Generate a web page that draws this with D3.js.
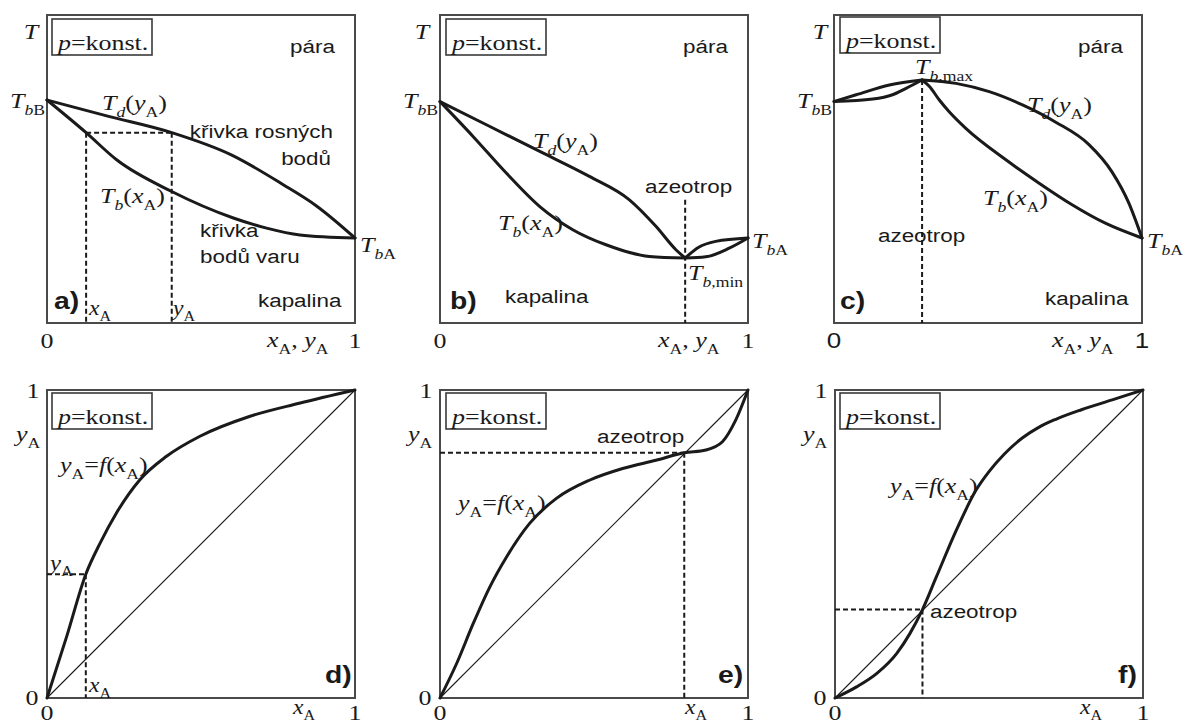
<!DOCTYPE html>
<html>
<head>
<meta charset="utf-8">
<script src="https://cdn.jsdelivr.net/npm/d3@7/dist/d3.min.js"></script>
<style>
  body { margin: 0; background: #fff; }
  svg { display: block; }
</style>
</head>
<body>
<div id="chart"></div>
<script>
// ---- data (all values are fractions of the axis range) ----
var tickLabels = ["0", "1"];

// a) ideal mixture: dew curve Td(yA) and boiling curve Tb(xA)
var aDew = [[0, 0.724], [0.2, 0.671], [0.405, 0.618], [0.6, 0.545], [0.767, 0.449], [0.875, 0.38], [1, 0.276]];
var aBubble = [[0, 0.724], [0.127, 0.618], [0.226, 0.53], [0.405, 0.427], [0.605, 0.341], [0.713, 0.308], [0.821, 0.286], [1, 0.276]];
var aTie = { xA: 0.127, yA: 0.405, T: 0.618 };

// b) minimum-boiling azeotrope
var bDew = [[0, 0.719], [0.162, 0.638], [0.324, 0.557], [0.485, 0.476], [0.615, 0.4], [0.701, 0.314], [0.766, 0.238], [0.796, 0.211], [0.84, 0.246], [0.895, 0.265], [1, 0.276]];
var bBubble = [[0, 0.719], [0.108, 0.605], [0.216, 0.486], [0.324, 0.378], [0.431, 0.303], [0.539, 0.254], [0.68, 0.216], [0.796, 0.211], [0.863, 0.215], [0.939, 0.243], [1, 0.276]];
var bAzeo = { x: 0.796, top: 0.4 };

// c) maximum-boiling azeotrope
var cDew = [[0, 0.719], [0.072, 0.741], [0.18, 0.773], [0.286, 0.789], [0.396, 0.778], [0.504, 0.751], [0.612, 0.708], [0.72, 0.652], [0.827, 0.58], [0.903, 0.49], [0.957, 0.39], [1, 0.276]];
var cBubble = [[0, 0.719], [0.126, 0.727], [0.19, 0.741], [0.234, 0.762], [0.286, 0.789], [0.31, 0.768], [0.342, 0.724], [0.374, 0.686], [0.428, 0.632], [0.558, 0.53], [0.666, 0.454], [0.773, 0.384], [0.881, 0.324], [1, 0.276]];
var cAzeo = { x: 0.286, top: 0.789 };

// d), e), f) equilibrium curves yA = f(xA)
var dCurve = [[0, 0], [0.064, 0.2], [0.126, 0.402], [0.172, 0.502], [0.225, 0.6], [0.301, 0.708], [0.387, 0.784], [0.495, 0.849], [0.657, 0.914], [0.819, 0.957], [1, 1]];
var dTie = { xA: 0.126, yA: 0.402 };
var eCurve = [[0, 0], [0.054, 0.112], [0.108, 0.242], [0.162, 0.361], [0.216, 0.458], [0.291, 0.567], [0.378, 0.648], [0.485, 0.707], [0.593, 0.745], [0.701, 0.772], [0.793, 0.796], [0.863, 0.805], [0.917, 0.832], [0.96, 0.902], [1, 1]];
var eAzeo = { xA: 0.793, yA: 0.796 };
var fCurve = [[0, 0], [0.07, 0.036], [0.135, 0.079], [0.2, 0.144], [0.243, 0.209], [0.284, 0.287], [0.329, 0.393], [0.394, 0.545], [0.458, 0.675], [0.5, 0.735], [0.55, 0.792], [0.609, 0.845], [0.66, 0.878], [0.717, 0.905], [0.8, 0.936], [0.9, 0.968], [1, 1]];
var fAzeo = { xA: 0.284, yA: 0.287 };
var diagonal = [[0, 0], [1, 1]];

// ---- drawing ----
var W = 1184, H = 726, SIZE = 308, SX = 1.18;
var SERIF = "'Liberation Serif','Times New Roman',serif";
var SANS = "'Liberation Sans',Arial,sans-serif";
var INK = "#1a1a1a";

var svg = d3.select("#chart").append("svg").attr("width", W).attr("height", H);

// text with italic / subscript pieces, slightly stretched horizontally like the original
function mathText(g, x, y, parts, o) {
    o = o || {};
    var size = o.size || 21;
    var t = g.append("g")
        .attr("transform", "translate(" + x + "," + y + ") scale(" + SX + ",1)")
        .append("text")
        .attr("text-anchor", o.anchor || "start")
        .style("font-family", o.family || SERIF)
        .style("font-size", size + "px")
        .style("font-weight", o.weight || "normal")
        .attr("fill", INK);
    var cur = 0;
    parts.forEach(function (p) {
        var s = p[1] || "";
        var sub = s.indexOf("s") >= 0;
        var target = sub ? size * 0.3 : 0;
        var ts = t.append("tspan").text(p[0]).attr("dy", target - cur);
        cur = target;
        if (s.indexOf("i") >= 0) ts.style("font-style", "italic");
        if (sub) ts.style("font-size", (size * 0.68) + "px");
    });
    return t;
}
function plain(g, x, y, str, o) { return mathText(g, x, y, [[str, ""]], o); }

var T_bB = [["T", "i"], ["b", "is"], ["B", "s"]];
var T_bA = [["T", "i"], ["b", "is"], ["A", "s"]];
var Td = [["T", "i"], ["d", "is"], ["(", ""], ["y", "i"], ["A", "s"], [")", ""]];
var Tb = [["T", "i"], ["b", "is"], ["(", ""], ["x", "i"], ["A", "s"], [")", ""]];
var xA = [["x", "i"], ["A", "s"]];
var yA = [["y", "i"], ["A", "s"]];
var xAyA = [["x", "i"], ["A", "s"], [", ", ""], ["y", "i"], ["A", "s"]];
var yf = [["y", "i"], ["A", "s"], ["=", ""], ["f", "i"], ["(", ""], ["x", "i"], ["A", "s"], [")", ""]];

function panel(cfg) {
    var g = svg.append("g").attr("transform", "translate(" + cfg.left + "," + cfg.top + ")");
    var x = d3.scaleLinear().domain([0, 1]).range([0, SIZE]);
    var y = d3.scaleLinear().domain([0, 1]).range([SIZE, 0]);
    var line = d3.line().x(function (d) { return x(d[0]); }).y(function (d) { return y(d[1]); });
    var smooth = d3.line().x(function (d) { return x(d[0]); }).y(function (d) { return y(d[1]); }).curve(d3.curveMonotoneX);

    g.append("rect").attr("x", 0).attr("y", 0).attr("width", SIZE).attr("height", SIZE)
        .attr("fill", "none").attr("stroke", "#4a4a4a").attr("stroke-width", 2);

    (cfg.thin || []).forEach(function (pts) {
        g.append("path").attr("d", line(pts)).attr("fill", "none").attr("stroke", INK).attr("stroke-width", 1.1);
    });
    (cfg.dashed || []).forEach(function (pts) {
        g.append("path").attr("d", line(pts)).attr("fill", "none").attr("stroke", INK)
            .attr("stroke-width", 2).attr("stroke-dasharray", "5,3");
    });
    (cfg.curves || []).forEach(function (c) {
        // split at the azeotrope so the cusp stays sharp
        var parts = c.split == null ? [c.pts] :
            [c.pts.filter(function (d) { return d[0] <= c.split; }), c.pts.filter(function (d) { return d[0] >= c.split; })];
        parts.forEach(function (pts) {
            g.append("path").attr("d", smooth(pts)).attr("fill", "none").attr("stroke", INK)
                .attr("stroke-width", 3).attr("stroke-linejoin", "round").attr("stroke-linecap", "round");
        });
    });

    // p = konst. box
    g.append("rect").attr("x", cfg.box[0]).attr("y", cfg.box[1]).attr("width", 100).attr("height", 36)
        .attr("fill", "#fff").attr("stroke", "#3a3a3a").attr("stroke-width", 1.6);
    mathText(g, cfg.box[0] + 6, cfg.box[1] + 31, [["p", "i"], ["=konst.", ""]], { size: 22 });

    // tick labels 0 / 1
    var tf = cfg.tickFamily || SERIF;
    var tb = cfg.yTicks ? SIZE + 22 : SIZE + 25;
    plain(g, x(0), tb, tickLabels[0], { anchor: "middle", family: tf, size: 22 });
    plain(g, x(1), tb, tickLabels[1], { anchor: "middle", family: tf, size: 22 });
    if (cfg.yTicks) {
        plain(g, -15, y(0) + 7, tickLabels[0], { anchor: "middle", size: 22 });
        plain(g, -14, y(1) + 8, tickLabels[1], { anchor: "middle", size: 22 });
    }

    cfg.labels.forEach(function (l) {
        if (typeof l.t === "string") plain(g, l.x, l.y, l.t, l.o);
        else mathText(g, l.x, l.y, l.t, l.o);
    });
}

var sans = { family: SANS, size: 19 };
var bold = { family: SANS, size: 24, weight: "bold" };

// a)
panel({
    left: 47, top: 15, box: [5, 4],
    curves: [{ pts: aDew }, { pts: aBubble }],
    dashed: [
        [[aTie.xA, aTie.T], [aTie.yA, aTie.T]],
        [[aTie.xA, aTie.T], [aTie.xA, 0]],
        [[aTie.yA, aTie.T], [aTie.yA, 0]]
    ],
    labels: [
        { x: -16, y: 24, t: [["T", "i"]], o: { anchor: "middle", size: 22 } },
        { x: 243, y: 38, t: "pára", o: sans },
        { x: -2, y: 93, t: T_bB, o: { anchor: "end", size: 22 } },
        { x: 55, y: 95, t: Td, o: { size: 22 } },
        { x: 286, y: 123, t: "křivka rosných", o: { family: SANS, size: 19, anchor: "end" } },
        { x: 284, y: 150, t: "bodů", o: { family: SANS, size: 19, anchor: "end" } },
        { x: 53, y: 188, t: Tb, o: { size: 22 } },
        { x: 153, y: 222, t: "křivka", o: sans },
        { x: 153, y: 248, t: "bodů varu", o: sans },
        { x: 313, y: 237, t: T_bA, o: { size: 22 } },
        { x: 211, y: 292, t: "kapalina", o: sans },
        { x: 7, y: 294, t: "a)", o: bold },
        { x: 42, y: 300, t: xA, o: { size: 20 } },
        { x: 126, y: 300, t: yA, o: { size: 20 } },
        { x: 220, y: 332, t: xAyA, o: { size: 22 } }
    ]
});

// b)
panel({
    left: 440, top: 15, box: [6, 4],
    curves: [{ pts: bDew, split: bAzeo.x }, { pts: bBubble, split: bAzeo.x }],
    dashed: [[[bAzeo.x, bAzeo.top], [bAzeo.x, 0]]],
    labels: [
        { x: -18, y: 24, t: [["T", "i"]], o: { anchor: "middle", size: 22 } },
        { x: 243, y: 38, t: "pára", o: sans },
        { x: -2, y: 93, t: T_bB, o: { anchor: "end", size: 22 } },
        { x: 93, y: 133, t: Td, o: { size: 22 } },
        { x: 58, y: 215, t: Tb, o: { size: 22 } },
        { x: 205, y: 178, t: "azeotrop", o: sans },
        { x: 248, y: 265, t: [["T", "i"], ["b,", "is"], ["min", "s"]], o: { size: 22 } },
        { x: 312, y: 233, t: T_bA, o: { size: 22 } },
        { x: 10, y: 294, t: "b)", o: bold },
        { x: 65, y: 288, t: "kapalina", o: sans },
        { x: 218, y: 332, t: xAyA, o: { size: 22 } }
    ]
});

// c)
panel({
    left: 834, top: 15, box: [6, 2], tickFamily: SANS,
    curves: [{ pts: cDew, split: cAzeo.x }, { pts: cBubble, split: cAzeo.x }],
    dashed: [[[cAzeo.x, cAzeo.top], [cAzeo.x, 0]]],
    labels: [
        { x: -14, y: 24, t: [["T", "i"]], o: { anchor: "middle", size: 22 } },
        { x: 244, y: 38, t: "pára", o: sans },
        { x: -2, y: 93, t: T_bB, o: { anchor: "end", size: 22 } },
        { x: 81, y: 59, t: [["T", "i"], ["b,", "is"], ["max", "s"]], o: { size: 22 } },
        { x: 193, y: 97, t: Td, o: { size: 22 } },
        { x: 149, y: 190, t: Tb, o: { size: 22 } },
        { x: 44, y: 227, t: "azeotrop", o: sans },
        { x: 313, y: 233, t: T_bA, o: { size: 22 } },
        { x: 6, y: 294, t: "c)", o: bold },
        { x: 211, y: 290, t: "kapalina", o: sans },
        { x: 218, y: 332, t: xAyA, o: { size: 22 } }
    ]
});

// d)
panel({
    left: 47, top: 390, box: [5, 3], yTicks: true,
    thin: [diagonal],
    curves: [{ pts: dCurve }],
    dashed: [
        [[0, dTie.yA], [dTie.xA, dTie.yA]],
        [[dTie.xA, dTie.yA], [dTie.xA, 0]]
    ],
    labels: [
        { x: -31, y: 51, t: yA, o: { size: 22 } },
        { x: 13, y: 82, t: yf, o: { size: 22 } },
        { x: 3, y: 180, t: yA, o: { size: 21 } },
        { x: 42, y: 302, t: xA, o: { size: 20 } },
        { x: 278, y: 293, t: "d)", o: bold },
        { x: 246, y: 324, t: xA, o: { size: 20 } }
    ]
});

// e)
panel({
    left: 440, top: 390, box: [6, 3], yTicks: true,
    thin: [diagonal],
    curves: [{ pts: eCurve }],
    dashed: [
        [[0, eAzeo.yA], [eAzeo.xA, eAzeo.yA]],
        [[eAzeo.xA, eAzeo.yA], [eAzeo.xA, 0]]
    ],
    labels: [
        { x: -32, y: 51, t: yA, o: { size: 22 } },
        { x: 157, y: 53, t: "azeotrop", o: sans },
        { x: 18, y: 120, t: yf, o: { size: 22 } },
        { x: 278, y: 293, t: "e)", o: bold },
        { x: 245, y: 324, t: xA, o: { size: 20 } }
    ]
});

// f)
panel({
    left: 835, top: 390, box: [5, 3], yTicks: true,
    thin: [diagonal],
    curves: [{ pts: fCurve }],
    dashed: [
        [[0, fAzeo.yA], [fAzeo.xA, fAzeo.yA]],
        [[fAzeo.xA, fAzeo.yA], [fAzeo.xA, 0]]
    ],
    labels: [
        { x: -32, y: 51, t: yA, o: { size: 22 } },
        { x: 55, y: 103, t: yf, o: { size: 22 } },
        { x: 95, y: 228, t: "azeotrop", o: sans },
        { x: 283, y: 293, t: "f)", o: bold },
        { x: 245, y: 324, t: xA, o: { size: 20 } }
    ]
});
</script>
</body>
</html>
